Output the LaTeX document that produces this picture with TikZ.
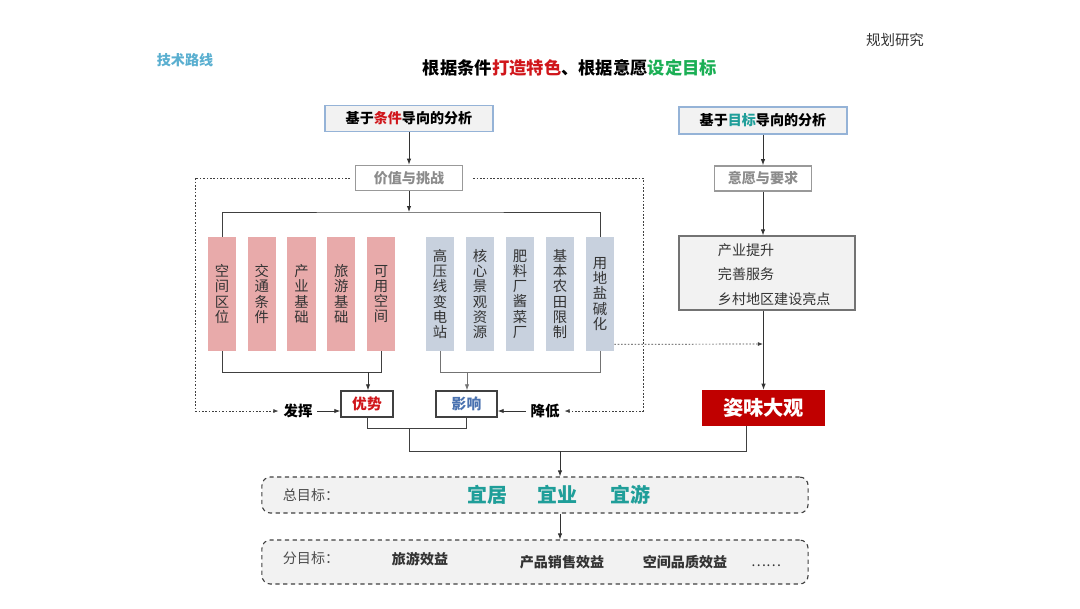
\documentclass[tikz,border=0pt]{standalone}
\usepackage{fontspec}
\setmainfont{Noto Sans CJK SC}
\usepackage{tikz}
\usetikzlibrary{arrows.meta,positioning,calc}

\definecolor{tred}{HTML}{D0161B}
\definecolor{tgreen}{HTML}{1BAF55}
\definecolor{tteal}{HTML}{1F9E99}
\definecolor{techblue}{HTML}{5AAFD0}
\definecolor{framblue}{HTML}{95B3D7}
\definecolor{boxgray}{HTML}{F2F2F2}
\definecolor{colpink}{HTML}{E8AAAA}
\definecolor{colblue}{HTML}{C8D1DE}
\definecolor{brandred}{HTML}{C00000}
\definecolor{impblue}{HTML}{4A72B0}
\definecolor{txtgray}{HTML}{333333}

\begin{document}
\begin{tikzpicture}[x=0.025cm, y=-0.025cm,
    arr/.style={-{Latex[length=1.5mm,width=1.1mm]}, black!80, line width=0.6pt},
    link/.style={black!75, line width=0.6pt},
    dashlink/.style={black!75, dashed, dash pattern=on 1.2pt off 1.2pt, line width=0.5pt, -{Latex[length=1.3mm,width=1mm]}},
    headbox/.style={draw=framblue, fill=boxgray, line width=1pt, minimum width=4.2cm, minimum height=0.65cm, font=\fontsize{10}{12}\selectfont\bfseries},
    graybox/.style={draw=black!40, fill=white, line width=1pt, text=black!45, minimum height=0.63cm, font=\fontsize{10}{12}\selectfont\bfseries},
    column/.style={minimum width=0.7cm, minimum height=2.85cm, inner sep=0pt, align=center, text=txtgray, font=\fontsize{10.2}{10.8}\selectfont},
    redcol/.style={column, fill=colpink},
    bluecol/.style={column, fill=colblue},
    resbox/.style={draw=black!75, fill=white, line width=1pt, minimum width=1.3cm, minimum height=0.65cm, font=\fontsize{10.5}{12}\selectfont\bfseries},
    goalbox/.style={draw=black!75, fill=boxgray, dashed, dash pattern=on 3pt off 2.5pt, line width=0.8pt, rounded corners=6pt, minimum width=13.65cm},
    lbl/.style={font=\fontsize{10}{12}\selectfont, text=txtgray}
  ]
  \useasboundingbox (0,0) rectangle (1080,608);

  % Kopfzeile
  \node[text=techblue, font=\fontsize{10}{12}\selectfont\bfseries] (route) at (185,60) {技术路线};
  \node[lbl, font=\fontsize{10.3}{12}\selectfont] (study) at (895,40) {规划研究};
  \node[font=\fontsize{12.3}{14}\selectfont\bfseries] (title) at (570,68)
    {根据条件\textcolor{tred}{打造特色}、根据意愿\textcolor{tgreen}{设定目标}};

  % Analyse
  \node[headbox] (cond) at (409,118.5) {基于\textcolor{tred}{条件}导向的分析};
  \node[headbox, minimum height=0.675cm] (goal) at (763,120.5) {基于\textcolor{tteal}{目标}导向的分析};
  \node[graybox, minimum width=2.675cm] (value) at (409,178) {价值与挑战};
  \node[graybox, minimum width=2.425cm] (wish) at (763,178.5) {意愿与要求};
  \node[draw=black!55, fill=boxgray, line width=0.8pt, minimum width=4.4cm, minimum height=1.85cm] (req) at (767,273) {};
  \node[lbl, anchor=west] (req1) at (713,250) {产业提升};
  \node[lbl, anchor=west] (req2) at (713,274) {完善服务};
  \node[lbl, anchor=west] (req3) at (713,299) {乡村地区建设亮点};

  \draw[arr] (cond) -- (value);
  \draw[arr] (goal) -- (wish);
  \draw[arr] (wish.south) -- (req.north -| wish.south);

  % Faktoren
  \foreach \t [count=\i] in {{空\\间\\区\\位},{交\\通\\条\\件},{产\\业\\基\\础},{旅\\游\\基\\础},{可\\用\\空\\间}}
    \node[redcol] (col\i) at ({222+39.75*(\i-1)},294) {\t};
  \foreach \t [count=\i from 6] in {{高\\压\\线\\变\\电\\站},{核\\心\\景\\观\\资\\源},{肥\\料\\厂\\酱\\菜\\厂},{基\\本\\农\\田\\限\\制},{用\\地\\盐\\碱\\化}}
    \node[bluecol] (col\i) at ({440+40*(\i-6)},294) {\t};

  \coordinate (top) at (409,212);
  \draw[link] (col1.north) |- (top) -| (col10.north);
  \draw[arr] (value) -- (top);

  % Ergebnis
  \node[resbox, text=tred] (adv) at (367,404) {优势};
  \node[resbox, text=impblue, minimum width=1.525cm] (imp) at (466.5,404) {影响};
  \node[font=\fontsize{10.3}{12}\selectfont\bfseries] (play) at (298,411) {发挥};
  \node[font=\fontsize{10.3}{12}\selectfont\bfseries] (lower) at (545,411) {降低};

  \coordinate (rjoin) at (368,372);
  \coordinate (bjoin) at (467,372);
  \draw[link] (col1.south) |- (rjoin) -| (col5.south);
  \draw[arr] (rjoin) -- (adv.north -| rjoin);
  \draw[link, black!55] (col6.south) |- (bjoin) -| (col10.south);
  \draw[arr, black!55] (bjoin) -- (imp.north -| bjoin);
  \draw[arr] (play) -- (adv.west |- play);
  \draw[arr] (lower) -- (imp.east |- lower);

  % gestrichelte Rueckfuehrung
  \coordinate (dl) at (195,411);
  \coordinate (dr) at (643,411);
  \draw[dashlink] ([xshift=-0.12cm]value.west) -| (dl) -- (play.west);
  \draw[dashlink] ([xshift=0.25cm]value.east) -| (dr) -- (lower.east);

  % Leitbild
  \node[fill=brandred, text=white, minimum width=3.075cm, minimum height=0.9cm,
        font=\fontsize{14.4}{16}\selectfont\bfseries] (brand) at (763.5,408) {姿味大观};
  \coordinate (dj) at (763,344);
  \draw[dashlink] ([yshift=0.175cm]col10.south east) -- (dj);
  \draw[arr] (req.south -| brand.north) -- (brand.north);

  % Ziele
  \node[goalbox, minimum height=0.9cm] (total) at (535,495) {};
  \node[goalbox, minimum height=1.1cm] (sub) at (535,562) {};
  \node[lbl, text=black!70] (totlbl) at (311,495) {总目标：};
  \foreach \t/\x in {宜居/487, 宜业/557, 宜游/630}
    \node[text=tteal, font=\fontsize{14.2}{16}\selectfont\bfseries] (g\x) at (\x,495) {\t};
  \node[lbl, text=black!70] (sublbl) at (311,558) {分目标：};
  \node[lbl, font=\fontsize{10}{12}\selectfont\bfseries] (s1) at (420,559) {旅游效益};
  \node[lbl, font=\fontsize{10}{12}\selectfont\bfseries] (s2) at (562,562) {产品销售效益};
  \node[lbl, font=\fontsize{10}{12}\selectfont\bfseries] (s3) at (685,562) {空间品质效益};
  \node[lbl] (s4) at (766,566) {……};

  \coordinate (mid) at (409,428);
  \coordinate (low) at (560,451);
  \draw[link] (adv.south) |- (mid) -| (imp.south);
  \draw[link] (mid) |- (low) -| ([xshift=-0.425cm]brand.south);
  \draw[arr] (low) -- (total.north -| low);
  \draw[arr] (total.south -| low) -- (sub.north -| low);
\end{tikzpicture}
\end{document}
